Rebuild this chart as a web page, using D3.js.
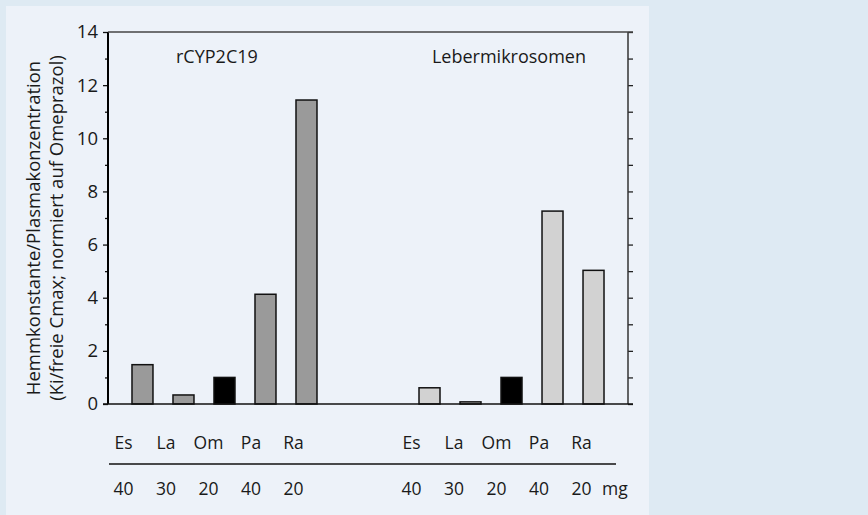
<!DOCTYPE html>
<html>
<head>
<meta charset="utf-8">
<script src="https://cdn.jsdelivr.net/npm/d3@7/dist/d3.min.js"></script>
<style>
  html, body { margin: 0; padding: 0; background: #deeaf3; }
  svg { display: block; }
  text { font-family: "Open Sans", "Noto Sans", sans-serif; fill: #1a1a1a; }
</style>
</head>
<body>
<svg id="chart" width="868" height="515"></svg>
<script>
// ---- data ----
const panels = ["rCYP2C19", "Lebermikrosomen"];
const drugs = ["Es", "La", "Om", "Pa", "Ra"];
const doses = ["40", "30", "20", "40", "20"];
const doseUnit = "mg";
const valuesRCYP = [1.48, 0.34, 1.0, 4.13, 11.44];
const valuesLeber = [0.61, 0.08, 1.0, 7.26, 5.03];
const yTickValues = [0, 2, 4, 6, 8, 10, 12, 14];
const yLabelLines = ["Hemmkonstante/Plasmakonzentration", "(Ki/freie Cmax; normiert auf Omeprazol)"];
const reference = "Om";

// ---- layout ----
const W = 868, H = 515;
const svg = d3.select("#chart");
svg.append("rect").attr("x", 0).attr("y", 0).attr("width", W).attr("height", H).attr("fill", "#deeaf3");
svg.append("rect").attr("x", 6).attr("y", 6).attr("width", 643).attr("height", H - 6).attr("fill", "#edf2f9");

const plot = { left: 108, right: 628, top: 32, bottom: 404 };

const slots = [
  ...drugs.map(d => panels[0] + "|" + d),
  "gap1", "gap2",
  ...drugs.map(d => panels[1] + "|" + d)
];
const x = d3.scaleBand().domain(slots).range([plot.left, plot.right])
  .paddingInner(0.488).paddingOuter(0.585);
const y = d3.scaleLinear().domain([0, 14]).range([plot.bottom, plot.top]);

const bars = [];
panels.forEach((p, pi) => {
  const vals = pi === 0 ? valuesRCYP : valuesLeber;
  drugs.forEach((d, i) => bars.push({ panel: p, pi, drug: d, value: vals[i] }));
});
const fillFor = b => b.drug === reference ? "#000000" : (b.pi === 0 ? "#9a9a9a" : "#d2d2d2");

// bars
svg.append("g").selectAll("rect").data(bars).join("rect")
  .attr("x", b => x(b.panel + "|" + b.drug))
  .attr("y", b => y(b.value))
  .attr("width", x.bandwidth())
  .attr("height", b => y(0) - y(b.value))
  .attr("fill", fillFor)
  .attr("stroke", "#111")
  .attr("stroke-width", 1.5);

// left axis
const minorTicks = d3.range(1, 14, 2);
const gL = svg.append("g").attr("transform", `translate(${plot.left},0)`);
gL.call(d3.axisLeft(y).tickValues(yTickValues).tickSize(5).tickPadding(5).tickFormat(d3.format("d")));
gL.call(g => g.select(".domain").remove());
gL.selectAll(".tick line").attr("stroke", "#111").attr("stroke-width", 1.3);
gL.selectAll(".tick text").attr("font-size", 18.5).attr("font-family", "Open Sans").attr("fill", "#1a1a1a");
gL.append("g").call(d3.axisLeft(y).tickValues(minorTicks).tickSize(3).tickFormat(""))
  .call(g => g.select(".domain").remove())
  .selectAll("line").attr("stroke", "#111").attr("stroke-width", 1.3);
gL.append("line").attr("x1", 0).attr("x2", 0).attr("y1", y(0)).attr("y2", y(14))
  .attr("stroke", "#000").attr("stroke-width", 2);

// right axis
const gR = svg.append("g").attr("transform", `translate(${plot.right},0)`);
gR.call(d3.axisRight(y).tickValues(d3.range(0, 15)).tickSize(5).tickFormat(""));
gR.call(g => g.select(".domain").remove());
gR.selectAll(".tick line").attr("stroke", "#222").attr("stroke-width", 1.3);
gR.append("line").attr("x1", 0).attr("x2", 0).attr("y1", y(0)).attr("y2", y(14))
  .attr("stroke", "#333").attr("stroke-width", 1.5);

// top and bottom frame lines
svg.append("line").attr("x1", plot.left).attr("x2", plot.right + 5)
  .attr("y1", y(14)).attr("y2", y(14)).attr("stroke", "#444").attr("stroke-width", 1.5);
svg.append("line").attr("x1", plot.left - 5).attr("x2", plot.right + 5)
  .attr("y1", y(0)).attr("y2", y(0)).attr("stroke", "#111").attr("stroke-width", 1.5);

// panel titles
svg.append("text").attr("x", 176).attr("y", 63).attr("font-size", 18).text(panels[0]);
svg.append("text").attr("x", 586).attr("y", 63).attr("font-size", 18).attr("text-anchor", "end").text(panels[1]);

// y label
yLabelLines.forEach((t, i) => {
  svg.append("text")
    .attr("transform", `translate(${i === 0 ? 40 : 63},228) rotate(-90)`)
    .attr("text-anchor", "middle")
    .attr("font-size", 18.5)
    .text(t);
});

// category + dose labels
const labelX = d3.scaleLinear().domain([0, 4]).range([123.5, 293.5]);
const panelShift = 288;
bars.forEach((b) => {
  const i = drugs.indexOf(b.drug);
  const cx = labelX(i) + b.pi * panelShift;
  svg.append("text").attr("x", cx).attr("y", 449).attr("text-anchor", "middle")
    .attr("font-size", 17.5).text(b.drug);
  svg.append("text").attr("x", cx).attr("y", 495).attr("text-anchor", "middle")
    .attr("font-size", 17.5).text(doses[i]);
});
svg.append("text").attr("x", 602).attr("y", 495).attr("font-size", 17.5).text(doseUnit);

// separator line
svg.append("line").attr("x1", 109).attr("x2", 616).attr("y1", 464).attr("y2", 464)
  .attr("stroke", "#111").attr("stroke-width", 1.5);
</script>
</body>
</html>
